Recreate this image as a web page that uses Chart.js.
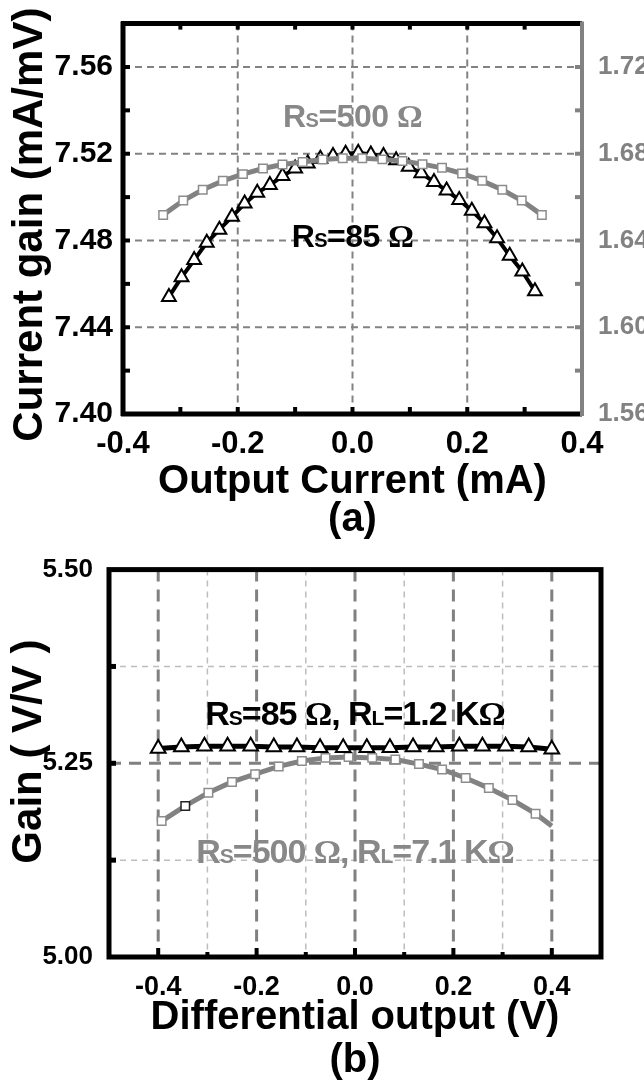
<!DOCTYPE html>
<html>
<head>
<meta charset="utf-8">
<script src="https://cdn.jsdelivr.net/npm/chart.js@4.4.1/dist/chart.umd.min.js"></script>
<style>
html,body{margin:0;padding:0;background:#fff;}
canvas{display:block;}
</style>
</head>
<body>
<canvas id="chartA" width="644" height="546"></canvas>
<canvas id="chartB" width="644" height="541"></canvas>
<script>
// ---- (a) current gain vs output current ----
const curX85 = [-0.320,-0.298,-0.276,-0.254,-0.232,-0.210,-0.188,-0.166,-0.144,-0.122,
  -0.100,-0.078,-0.056,-0.034,-0.012,0.010,0.032,0.054,0.076,0.098,
  0.120,0.142,0.164,0.186,0.208,0.230,0.252,0.274,0.296,0.318];
const gain85 = [7.454,7.463,7.471,7.479,7.485,7.491,7.497,7.502,7.5056,7.5097,
  7.5132,7.5155,7.5177,7.519,7.520,7.5205,7.5197,7.519,7.517,7.514,
  7.511,7.507,7.503,7.4987,7.4937,7.488,7.481,7.473,7.4657,7.4566];
const curX500 = [-0.330,-0.295,-0.261,-0.226,-0.191,-0.156,-0.122,-0.087,-0.052,-0.017,
  0.017,0.052,0.087,0.122,0.156,0.191,0.226,0.261,0.295,0.330];
const gain500 = [1.6518,1.6584,1.6634,1.6675,1.6706,1.6732,1.6750,1.6762,1.6773,1.6779,
  1.6779,1.6774,1.6767,1.6752,1.6735,1.6709,1.6675,1.6634,1.6584,1.6518];
const xTicksA = [-0.4,-0.2,0,0.2,0.4];
const yTicksA = [7.40,7.44,7.48,7.52,7.56];
const y2TicksA = [1.56,1.60,1.64,1.68,1.72];

// ---- (b) gain vs differential output ----
const diffX85 = [-0.4,-0.353,-0.306,-0.259,-0.212,-0.165,-0.118,-0.071,-0.024,
  0.024,0.071,0.118,0.165,0.212,0.259,0.306,0.353,0.4];
const gainB85 = [5.269,5.271,5.272,5.272,5.272,5.271,5.271,5.270,5.270,
  5.270,5.270,5.271,5.271,5.272,5.272,5.272,5.271,5.268];
const diffX500 = [-0.393,-0.345,-0.298,-0.250,-0.203,-0.155,-0.108,-0.060,-0.013,
  0.035,0.082,0.130,0.177,0.225,0.272,0.320,0.367,0.400];
const gainB500 = [5.1755,5.195,5.212,5.226,5.236,5.246,5.253,5.257,5.258,
  5.257,5.255,5.249,5.242,5.231,5.218,5.2026,5.185,5.169];
const xTicksB = [-0.4,-0.2,0,0.2,0.4];
const yTicksB = [5.00,5.25,5.50];

const SANS = '"Liberation Sans", Arial, sans-serif';
const SERIF = '"Liberation Serif", "Times New Roman", serif';
const GRAY = '#828282';
Chart.defaults.font.family = SANS;
Chart.defaults.font.weight = 'bold';
Chart.defaults.color = '#000';

const pts = (xs, ys) => xs.map((x, i) => ({x, y: ys[i]}));
const setTicks = arr => s => { s.ticks = arr.map(v => ({value: v})); };

function line(ctx, x1, y1, x2, y2, color, w, dash){
  ctx.save();
  ctx.strokeStyle = color; ctx.lineWidth = w; ctx.setLineDash(dash || []);
  ctx.beginPath(); ctx.moveTo(x1, y1); ctx.lineTo(x2, y2); ctx.stroke();
  ctx.restore();
}

function richText(ctx, cx, by, parts, color, spacing){
  ctx.save();
  ctx.fillStyle = color; ctx.textBaseline = 'alphabetic';
  ctx.letterSpacing = spacing || '0px';
  let w = 0;
  parts.forEach(p => { ctx.font = p[1]; w += ctx.measureText(p[0]).width; });
  let x = cx - w / 2;
  parts.forEach(p => { ctx.font = p[1]; ctx.fillText(p[0], x, by); x += ctx.measureText(p[0]).width; });
  ctx.restore();
}

// ---------- chart (a) ----------
const decoA = {
  id: 'decoA',
  beforeDatasetsDraw(c){
    const {ctx, chartArea: a, scales: {x, y}} = c;
    [-0.2, 0, 0.2].forEach(v => { const p = x.getPixelForValue(v); line(ctx, p, a.top, p, a.bottom, GRAY, 2, [7, 5]); });
    [7.44, 7.48, 7.52, 7.56].forEach(v => { const p = y.getPixelForValue(v); line(ctx, a.left, p, a.right, p, GRAY, 2, [7, 5]); });
  },
  afterDatasetsDraw(c){
    const {ctx, chartArea: a, scales: {x, y, y1}} = c;
    // inward ticks
    [-0.3,-0.2,-0.1,0,0.1,0.2,0.3].forEach(v => {
      const p = x.getPixelForValue(v);
      line(ctx, p, a.bottom, p, a.bottom - 7, '#000', 4);
      line(ctx, p, a.top, p, a.top + 6, '#000', 4);
    });
    [7.42,7.44,7.46,7.48,7.50,7.52,7.54,7.56].forEach(v => {
      const p = y.getPixelForValue(v);
      line(ctx, a.left, p, a.left + 7, p, '#000', 4);
    });
    [1.58,1.60,1.62,1.64,1.66,1.68,1.70,1.72].forEach(v => {
      const p = y1.getPixelForValue(v);
      line(ctx, a.right, p, a.right - 7, p, GRAY, 4);
    });
    // frame
    line(ctx, a.left - 2, a.top, a.right, a.top, '#000', 5);
    line(ctx, a.left - 2, a.bottom, a.right, a.bottom, '#000', 5);
    line(ctx, a.left, a.top - 2, a.left, a.bottom + 2, '#000', 5);
    line(ctx, a.right, a.top - 2, a.right, a.bottom + 2, GRAY, 4);
    // series labels
    const big = 'bold 32px ' + SANS, sub = 'bold 20px ' + SANS, om = 'bold 32px ' + SERIF;
    const cx = x.getPixelForValue(0);
    richText(ctx, cx, y.getPixelForValue(7.5323),
      [['R', big], ['S', sub], ['=500 ', big], ['\u03A9', om]], '#888888', '-0.5px');
    richText(ctx, cx, y.getPixelForValue(7.4768),
      [['R', big], ['S', sub], ['=85 ', big], ['\u03A9', om]], '#000', '-0.5px');
  }
};

new Chart(document.getElementById('chartA'), {
  type: 'line',
  data: {
    datasets: [
      {
        data: pts(curX500, gain500), yAxisID: 'y1',
        borderColor: GRAY, borderWidth: 5,
        pointStyle: 'rect', pointRadius: 6, pointBorderWidth: 1.5,
        pointBorderColor: '#8c8c8c', pointBackgroundColor: '#fff'
      },
      {
        data: pts(curX85, gain85), yAxisID: 'y',
        borderColor: '#000', borderWidth: 4,
        pointStyle: 'triangle', pointRadius: 8, pointBorderWidth: 2,
        pointBorderColor: '#000', pointBackgroundColor: '#fff'
      }
    ]
  },
  options: {
    responsive: false, animation: false, devicePixelRatio: 1,
    layout: {padding: {top: 18, right: 0, left: 0, bottom: 0}},
    plugins: {legend: {display: false}, tooltip: {enabled: false}},
    scales: {
      x: {
        type: 'linear', min: -0.4, max: 0.4,
        afterBuildTicks: setTicks(xTicksA),
        afterFit: s => { s.height = 132; },
        grid: {display: false}, border: {display: false},
        ticks: {padding: 4, autoSkip: false, maxRotation: 0, font: {size: 31},
          callback: v => v.toFixed(1)},
        title: {display: true, text: ['Output Current (mA)', '(a)'],
          font: {size: 40, lineHeight: 0.95}, padding: {top: 0, bottom: 7}}
      },
      y: {
        position: 'left', min: 7.40, max: 7.58,
        afterBuildTicks: setTicks(yTicksA),
        afterFit: s => { s.width = 123; },
        grid: {display: false}, border: {display: false},
        ticks: {padding: 2, font: {size: 30}, callback: v => v.toFixed(2)},
        title: {display: true, text: 'Current gain (mA/mV) ',
          font: {size: 42, lineHeight: 1.2}, padding: {top: 5, bottom: 0}}
      },
      y1: {
        position: 'right', min: 1.56, max: 1.74,
        afterBuildTicks: setTicks(y2TicksA),
        afterFit: s => { s.width = 62; },
        grid: {display: false}, border: {display: false},
        ticks: {padding: 8, color: GRAY, font: {size: 26}, callback: v => v.toFixed(2)}
      }
    }
  },
  plugins: [decoA]
});

// ---------- chart (b) ----------
const decoB = {
  id: 'decoB',
  beforeDatasetsDraw(c){
    const {ctx, chartArea: a, scales: {x, y}} = c;
    [-0.3, -0.1, 0.1, 0.3].forEach(v => { const p = x.getPixelForValue(v); line(ctx, p, a.top, p, a.bottom, '#bdbdbd', 1.5, [6, 5]); });
    [5.125, 5.375].forEach(v => { const p = y.getPixelForValue(v); line(ctx, a.left, p, a.right, p, '#bdbdbd', 1.5, [6, 5]); });
    [-0.4, -0.2, 0, 0.2, 0.4].forEach(v => { const p = x.getPixelForValue(v); line(ctx, p, a.top, p, a.bottom, '#808080', 3, [12, 8]); });
    [5.25].forEach(v => { const p = y.getPixelForValue(v); line(ctx, a.left, p, a.right, p, '#808080', 3, [12, 8]); });
  },
  afterDatasetsDraw(c){
    const {ctx, chartArea: a, scales: {x, y}} = c;
    [-0.4,-0.3,-0.2,-0.1,0,0.1,0.2,0.3,0.4].forEach((v, i) => {
      const p = x.getPixelForValue(v);
      line(ctx, p, a.bottom, p, a.bottom - (i % 2 ? 5 : 9), '#000', 4);
    });
    [5.125, 5.25, 5.375].forEach(v => {
      const p = y.getPixelForValue(v);
      line(ctx, a.left, p, a.left + 7, p, '#000', 5);
    });
    ctx.save();
    ctx.strokeStyle = '#000'; ctx.lineWidth = 5;
    ctx.strokeRect(a.left, a.top, a.right - a.left, a.bottom - a.top);
    ctx.restore();
    const big = 'bold 34px ' + SANS, sub = 'bold 21px ' + SANS, om = 'bold 34px ' + SERIF;
    const cx = x.getPixelForValue(0);
    richText(ctx, cx, y.getPixelForValue(5.299),
      [['R', big], ['S', sub], ['=85 ', big], ['\u03A9', om], [', R', big], ['L', sub], ['=1.2 K', big], ['\u03A9', om]],
      '#000', '-1px');
    richText(ctx, cx, y.getPixelForValue(5.121),
      [['R', big], ['S', sub], ['=500 ', big], ['\u03A9', om], [', R', big], ['L', sub], ['=7.1 K', big], ['\u03A9', om]],
      '#888888', '-1px');
  }
};

new Chart(document.getElementById('chartB'), {
  type: 'line',
  data: {
    datasets: [
      {
        data: pts(diffX85, gainB85),
        borderColor: '#000', borderWidth: 5,
        pointStyle: 'triangle', pointRadius: 8.5, pointBorderWidth: 2,
        pointBorderColor: '#000', pointBackgroundColor: '#fff'
      },
      {
        data: pts(diffX500, gainB500),
        borderColor: GRAY, borderWidth: 5,
        pointStyle: 'rect', pointBorderWidth: 1.5,
        pointRadius: gainB500.map((v, i) => i === gainB500.length - 1 ? 0 : 6),
        pointBorderColor: gainB500.map((v, i) => i === 1 ? '#222' : '#8c8c8c'),
        pointBackgroundColor: '#fff'
      }
    ]
  },
  options: {
    responsive: false, animation: false, devicePixelRatio: 1,
    layout: {padding: {top: 15, right: 43, left: 0, bottom: 0}},
    plugins: {legend: {display: false}, tooltip: {enabled: false}},
    scales: {
      x: {
        type: 'linear', min: -0.5, max: 0.5,
        afterBuildTicks: setTicks(xTicksB),
        afterFit: s => { s.height = 130; },
        grid: {display: false}, border: {display: false},
        ticks: {padding: 6, autoSkip: false, maxRotation: 0, font: {size: 27},
          callback: v => v.toFixed(1)},
        title: {display: true, text: ['Differential output (V)', '(b)'],
          font: {size: 40, lineHeight: 1.075}, padding: {top: 0, bottom: 5}}
      },
      y: {
        min: 5.0, max: 5.5,
        afterBuildTicks: setTicks(yTicksB),
        afterFit: s => { s.width = 109; },
        grid: {display: false}, border: {display: false},
        ticks: {padding: 8, font: {size: 26}, callback: v => v.toFixed(2)},
        title: {display: true, text: '  Gain ( V/V )',
          font: {size: 42, lineHeight: 1.2}, padding: {top: 4, bottom: 0}}
      }
    }
  },
  plugins: [decoB]
});
</script>
</body>
</html>
